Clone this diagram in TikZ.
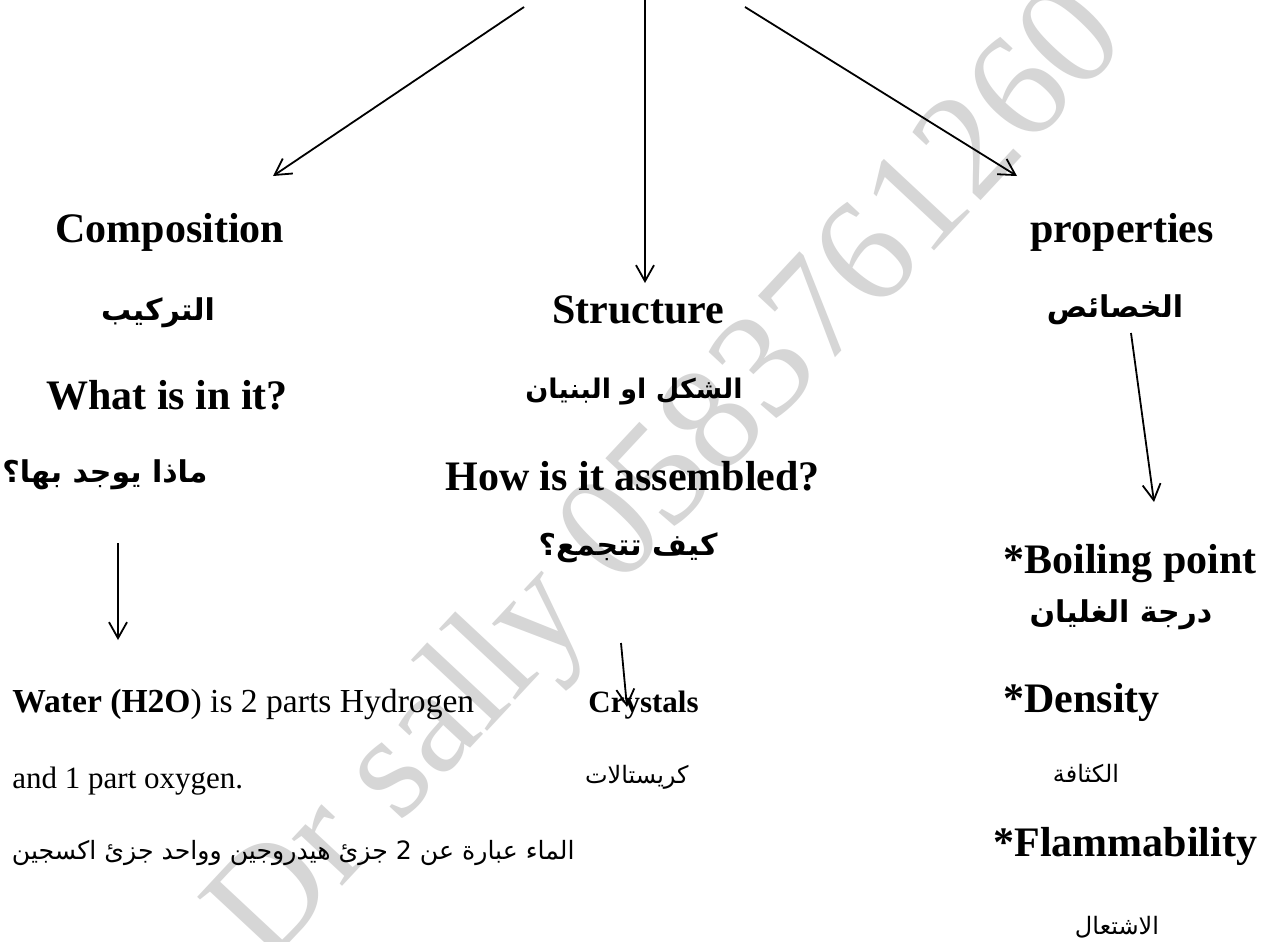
\documentclass[tikz,border=0pt]{standalone}
\usepackage{fontspec}
\setmainfont{Liberation Serif}
\newfontfamily\arabicfont[Script=Arabic]{DejaVu Sans}
\TeXXeTstate=1
\usetikzlibrary{arrows.meta}
\tikzset{
  head/.style={font=\fontsize{21}{24}\selectfont\bfseries, inner sep=0pt},
  body/.style={font=\fontsize{15.5}{18}\selectfont, inner sep=0pt},
  arhead/.style={font=\arabicfont\fontsize{15}{18}\selectfont\bfseries, inner sep=0pt},
  arbody/.style={font=\arabicfont\fontsize{12}{14}\selectfont, inner sep=0pt},
  conn/.style={-{Straight Barb[length=8pt,width=9pt]}, line width=0.9pt},
  wmark/.style={font=\fontsize{75}{80}\selectfont, text=black!16, inner sep=0pt, rotate=47}
}
\begin{document}
\begin{tikzpicture}[x=0.5pt,y=-0.5pt]
\useasboundingbox (0,0) rectangle (1270,942);
\fill[white] (0,0) rectangle (1270,942);
\clip (0,0) rectangle (1270,942);
% watermark
\node[wmark] (wm) at (672,480) {Dr sally 0583761260};
% column 1
\node[head, anchor=base west] (comp) at (55,242) {Composition};
\node[arhead] (tark) at (158,313) {\beginR التركيب\endR};
\node[head, anchor=base west] (what) at (46,409) {What is in it?};
\node[arhead, anchor=east] (madha) at (208,475) {\beginR ماذا يوجد بها؟\endR};
\node[body, anchor=base west, font=\fontsize{16.8}{19}\selectfont] (water) at (12,712) {\textbf{Water (H2O}) is 2 parts Hydrogen};
\node[body, anchor=base west] (oxy) at (12,788) {and 1 part oxygen.};
\node[arbody, anchor=east, font=\arabicfont\fontsize{12.6}{14}\selectfont] (arsent) at (575,853) {\beginR الماء عبارة عن 2 جزئ هيدروجين وواحد جزئ اكسجين\endR};
% column 2
\node[head, anchor=base west] (struct) at (552,323) {Structure};
\node[arhead, font=\arabicfont\fontsize{13.5}{16}\selectfont\bfseries] (shakl) at (634,392) {\beginR الشكل او البنيان\endR};
\node[head, anchor=base west] (how) at (445,490) {How is it assembled?};
\node[arhead, anchor=east] (kayf) at (718,548) {\beginR كيف تتجمع؟\endR};
\node[body, anchor=base west] (cryst) at (588,712) {\textbf{Crystals}};
\node[arbody, anchor=east] (crystar) at (689,777) {\beginR كريستالات\endR};
% column 3
\node[head, anchor=base west] (prop) at (1030,242) {properties};
\node[arhead] (khas) at (1115,310) {\beginR الخصائص\endR};
\node[head, anchor=base west] (boil) at (1003,573) {*Boiling point};
\node[arhead] (boilar) at (1121,615) {\beginR درجة الغليان\endR};
\node[head, anchor=base west] (dens) at (1003,712) {*Density};
\node[arbody] (densar) at (1086,773) {\beginR الكثافة\endR};
\node[head, anchor=base west] (flam) at (993,856) {*Flammability};
\node[arbody] (flamar) at (1117,927) {\beginR الاشتعال\endR};
% connector ends
\coordinate (t1) at (524,7);
\coordinate (e1) at (273,176);
\coordinate (t2) at (645,0);
\coordinate (e2) at (645,283);
\coordinate (t3) at (745,7);
\coordinate (e3) at (1017,176);
\coordinate (s4) at (118,543);
\coordinate (e4) at (118,640);
\coordinate (s5) at (621,643);
\coordinate (e5) at (627,707);
\coordinate (s6) at (1131,333);
\coordinate (e6) at (1154,502);
\draw[conn] (t1) -- (e1);
\draw[conn] (t2) -- (e2);
\draw[conn] (t3) -- (e3);
\draw[conn] (s4) -- (e4);
\draw[conn] (s5) -- (e5);
\draw[conn] (s6) -- (e6);
\end{tikzpicture}
\end{document}
